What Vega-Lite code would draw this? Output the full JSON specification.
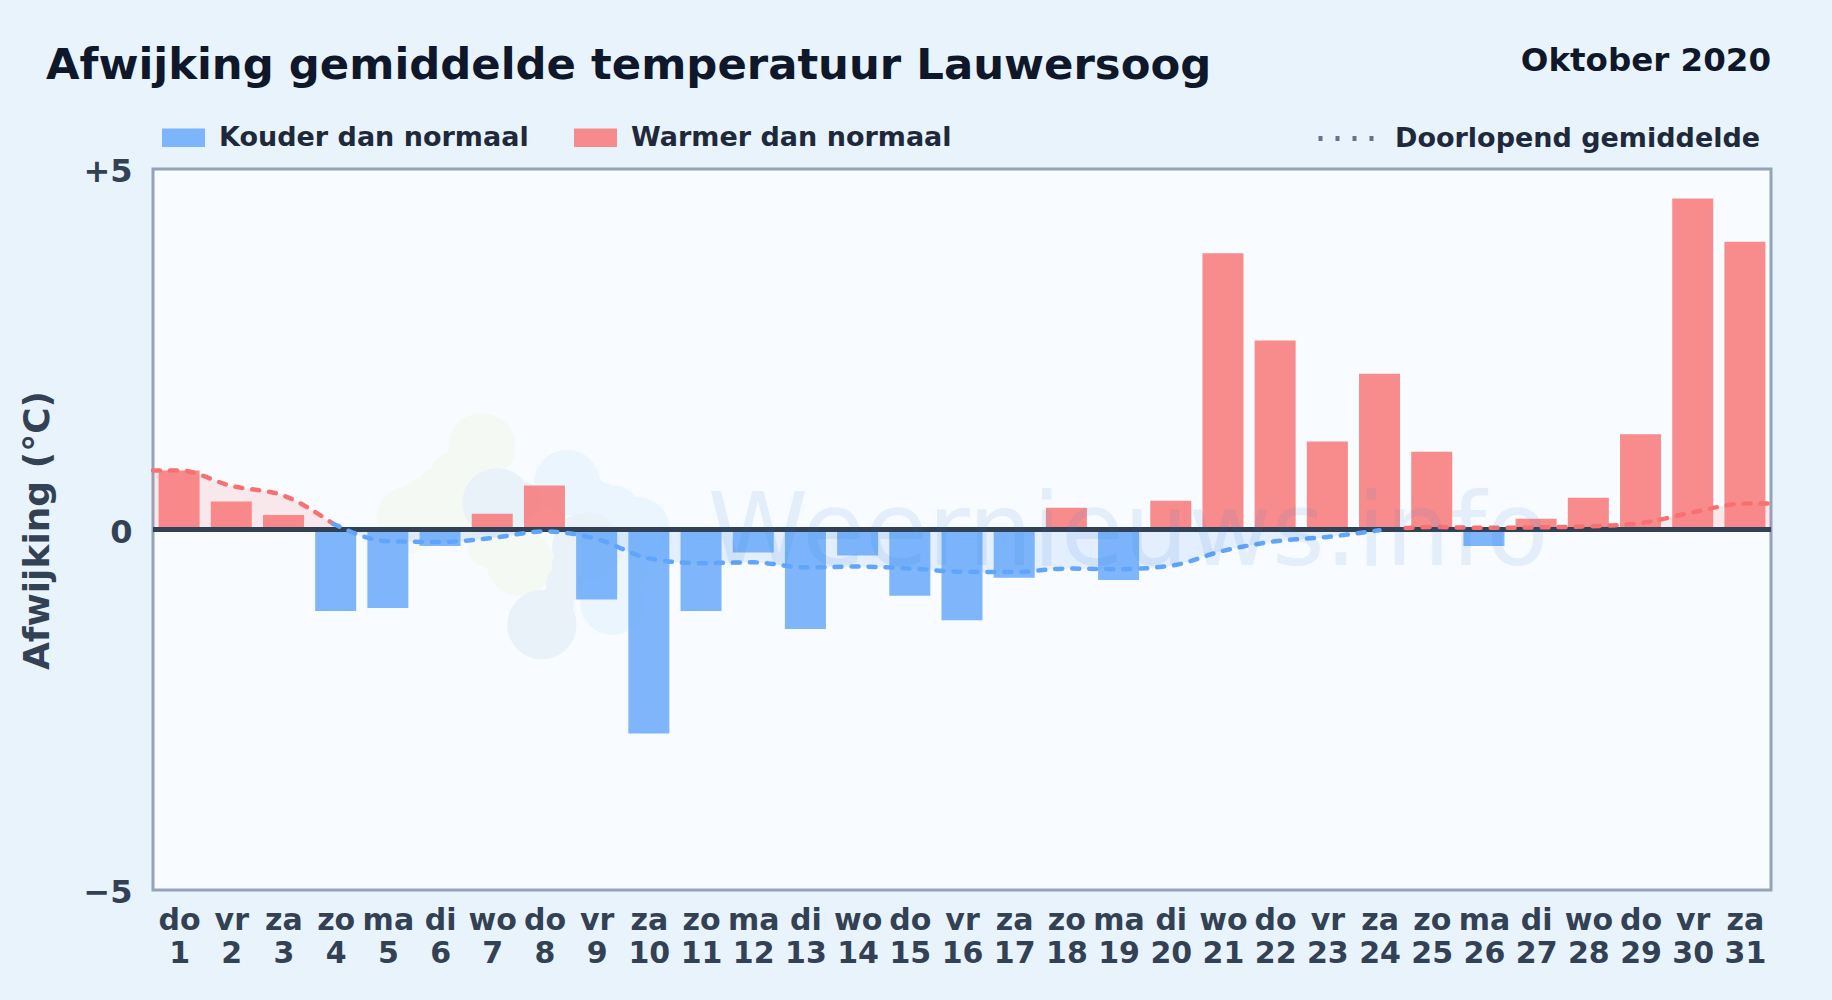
{
"$schema":"https://vega.github.io/schema/vega-lite/v6.json",
"width":1618,"height":721,
"autosize":{"type":"none"},
"padding":{"left":153,"top":169,"right":61,"bottom":110},
"background":"#e9f3fc",
"view":{"fill":"#f8fbff","stroke":"#94a3b8","strokeWidth":3},
"config":{"font":"DejaVu Sans"},
"title":{"text":"Afwijking gemiddelde temperatuur Lauwersoog","anchor":"start","frame":"group","dx":-107,"offset":-78,"baseline":"alphabetic","fontSize":43.35,"fontWeight":"bold","color":"#0f172a","font":"DejaVu Sans"},
"datasets":{
"days":[
{"day":1,"dev":0.82,"kind":"Warmer dan normaal"},{"day":2,"dev":0.39,"kind":"Warmer dan normaal"},{"day":3,"dev":0.2,"kind":"Warmer dan normaal"},{"day":4,"dev":-1.13,"kind":"Kouder dan normaal"},{"day":5,"dev":-1.09,"kind":"Kouder dan normaal"},{"day":6,"dev":-0.23,"kind":"Kouder dan normaal"},{"day":7,"dev":0.22,"kind":"Warmer dan normaal"},{"day":8,"dev":0.61,"kind":"Warmer dan normaal"},{"day":9,"dev":-0.97,"kind":"Kouder dan normaal"},{"day":10,"dev":-2.83,"kind":"Kouder dan normaal"},{"day":11,"dev":-1.13,"kind":"Kouder dan normaal"},{"day":12,"dev":-0.32,"kind":"Kouder dan normaal"},{"day":13,"dev":-1.38,"kind":"Kouder dan normaal"},{"day":14,"dev":-0.36,"kind":"Kouder dan normaal"},{"day":15,"dev":-0.92,"kind":"Kouder dan normaal"},{"day":16,"dev":-1.26,"kind":"Kouder dan normaal"},{"day":17,"dev":-0.67,"kind":"Kouder dan normaal"},{"day":18,"dev":0.3,"kind":"Warmer dan normaal"},{"day":19,"dev":-0.7,"kind":"Kouder dan normaal"},{"day":20,"dev":0.4,"kind":"Warmer dan normaal"},{"day":21,"dev":3.83,"kind":"Warmer dan normaal"},{"day":22,"dev":2.62,"kind":"Warmer dan normaal"},{"day":23,"dev":1.22,"kind":"Warmer dan normaal"},{"day":24,"dev":2.16,"kind":"Warmer dan normaal"},{"day":25,"dev":1.08,"kind":"Warmer dan normaal"},{"day":26,"dev":-0.23,"kind":"Kouder dan normaal"},{"day":27,"dev":0.15,"kind":"Warmer dan normaal"},{"day":28,"dev":0.44,"kind":"Warmer dan normaal"},{"day":29,"dev":1.32,"kind":"Warmer dan normaal"},{"day":30,"dev":4.59,"kind":"Warmer dan normaal"},{"day":31,"dev":3.99,"kind":"Warmer dan normaal"}],
"mean":[
{"day":0.5,"mean":0.82,"part":"warm1"},{"day":1,"mean":0.82,"part":"warm1"},{"day":2,"mean":0.605,"part":"warm1"},{"day":3,"mean":0.47,"part":"warm1"},{"day":3.95,"mean":0.08,"part":"warm1"},
{"day":3.95,"mean":0.08,"part":"cold"},{"day":5,"mean":-0.162,"part":"cold"},{"day":6,"mean":-0.173,"part":"cold"},{"day":7,"mean":-0.117,"part":"cold"},{"day":8,"mean":-0.026,"part":"cold"},{"day":9,"mean":-0.131,"part":"cold"},{"day":10,"mean":-0.401,"part":"cold"},{"day":11,"mean":-0.467,"part":"cold"},{"day":12,"mean":-0.455,"part":"cold"},{"day":13,"mean":-0.526,"part":"cold"},{"day":14,"mean":-0.514,"part":"cold"},{"day":15,"mean":-0.541,"part":"cold"},{"day":16,"mean":-0.586,"part":"cold"},{"day":17,"mean":-0.591,"part":"cold"},{"day":18,"mean":-0.542,"part":"cold"},{"day":19,"mean":-0.55,"part":"cold"},{"day":20,"mean":-0.503,"part":"cold"},{"day":21,"mean":-0.296,"part":"cold"},{"day":22,"mean":-0.164,"part":"cold"},{"day":23,"mean":-0.103,"part":"cold"},{"day":24,"mean":-0.009,"part":"cold"},
{"day":24.5,"mean":0.02,"part":"warm2"},{"day":25,"mean":0.034,"part":"warm2"},{"day":26,"mean":0.024,"part":"warm2"},{"day":27,"mean":0.029,"part":"warm2"},{"day":28,"mean":0.044,"part":"warm2"},{"day":29,"mean":0.088,"part":"warm2"},{"day":30,"mean":0.238,"part":"warm2"},{"day":31,"mean":0.359,"part":"warm2"},{"day":31.5,"mean":0.359,"part":"warm2"}],
"logo":[
{"lx":6.8,"ly":1.15,"c":"green","s":"big"},{"lx":5.42,"ly":0.14,"c":"green","s":"big"},{"lx":7.53,"ly":-0.46,"c":"green","s":"big"},
{"lx":6.0,"ly":0.55,"c":"green","s":"small"},{"lx":6.48,"ly":0.14,"c":"green","s":"small"},{"lx":6.96,"ly":-0.21,"c":"green","s":"small"},{"lx":6.57,"ly":0.97,"c":"green","s":"small"},{"lx":6.25,"ly":0.75,"c":"green","s":"small"},{"lx":5.7,"ly":0.4,"c":"green","s":"small"},
{"lx":8.43,"ly":0.65,"c":"blue","s":"big"},{"lx":9.77,"ly":0,"c":"blue","s":"big"},{"lx":9.31,"ly":-1.01,"c":"blue","s":"big"},
{"lx":9.06,"ly":0.35,"c":"blue","s":"small"},{"lx":9.54,"ly":-0.55,"c":"blue","s":"small"},{"lx":8.8,"ly":0.45,"c":"blue","s":"small"},{"lx":9.35,"ly":0.3,"c":"blue","s":"small"},
{"lx":7.09,"ly":0.37,"c":"gray","s":"big"},{"lx":7.95,"ly":-1.32,"c":"gray","s":"big"},{"lx":8.81,"ly":-0.24,"c":"gray","s":"big"},
{"lx":8.39,"ly":-0.76,"c":"gray","s":"small"},{"lx":8.5,"ly":-0.5,"c":"gray","s":"small"},{"lx":8.2,"ly":-1.05,"c":"gray","s":"small"},{"lx":7.6,"ly":0.4,"c":"gray","s":"small"}]
},
"data":{"name":"days"},
"layer":[
{"data":{"name":"logo"},"transform":[{"filter":"datum.c=='green'&&datum.s=='big'"}],"mark":{"type":"point","filled":true,"shape":"circle","size":4500,"color":"#f5f9f3","opacity":1},"encoding":{
"x":{"field":"lx","type":"quantitative","scale":{"domain":[0.5,31.5],"nice":false,"zero":false,"padding":0},"axis":{"values":[1,2,3,4,5,6,7,8,9,10,11,12,13,14,15,16,17,18,19,20,21,22,23,24,25,26,27,28,29,30,31],"title":null,"grid":false,"ticks":false,"domain":false,"labelFontSize":30,"labelFontWeight":"bold","labelColor":"#334155","labelPadding":15,"labelOverlap":false,"labelBound":false,"labelFlush":false,"labelLineHeight":33,"labelBaseline":"top","labelExpr":"[['do','vr','za','zo','ma','di','wo'][(datum.value-1)%7], ''+datum.value]"}},
"y":{"field":"ly","type":"quantitative","scale":{"domain":[-5,5],"nice":false,"padding":0},"axis":{"values":[-5,0,5],"grid":false,"ticks":false,"domain":false,"title":"Afwijking (°C)","titleFontSize":36,"titleFontWeight":"bold","titleColor":"#334155","titleX":-97,"titleY":361,"titleAlign":"center","labelFontSize":32,"labelFontWeight":"bold","labelColor":"#334155","labelPadding":21,"labelOffset":2.5,"labelOverlap":false,"labelBound":false,"labelFlush":false,"labelExpr":"datum.value>0?'+5':datum.value<0?'−5':'0'"}}}},
{"data":{"name":"logo"},"transform":[{"filter":"datum.c=='green'&&datum.s=='small'"}],"mark":{"type":"point","filled":true,"shape":"circle","size":2200,"color":"#f5f9f3","opacity":1},"encoding":{"x":{"field":"lx","type":"quantitative"},"y":{"field":"ly","type":"quantitative"}}},
{"data":{"name":"logo"},"transform":[{"filter":"datum.c=='blue'&&datum.s=='big'"}],"mark":{"type":"point","filled":true,"shape":"circle","size":4300,"color":"#ebf5fe","opacity":1},"encoding":{"x":{"field":"lx","type":"quantitative"},"y":{"field":"ly","type":"quantitative"}}},
{"data":{"name":"logo"},"transform":[{"filter":"datum.c=='blue'&&datum.s=='small'"}],"mark":{"type":"point","filled":true,"shape":"circle","size":2000,"color":"#ebf5fe","opacity":1},"encoding":{"x":{"field":"lx","type":"quantitative"},"y":{"field":"ly","type":"quantitative"}}},
{"data":{"name":"logo"},"transform":[{"filter":"datum.c=='gray'&&datum.s=='big'"}],"mark":{"type":"point","filled":true,"shape":"circle","size":4800,"color":"#e9f1f9","opacity":1},"encoding":{"x":{"field":"lx","type":"quantitative"},"y":{"field":"ly","type":"quantitative"}}},
{"data":{"name":"logo"},"transform":[{"filter":"datum.c=='gray'&&datum.s=='small'"}],"mark":{"type":"point","filled":true,"shape":"circle","size":1400,"color":"#e9f1f9","opacity":1},"encoding":{"x":{"field":"lx","type":"quantitative"},"y":{"field":"ly","type":"quantitative"}}},
{"data":{"name":"mean"},"transform":[{"filter":"datum.part!='cold'"}],"mark":{"type":"area","interpolate":"monotone","color":"#f87171","opacity":0.14},"encoding":{"x":{"field":"day","type":"quantitative"},"y":{"field":"mean","type":"quantitative"},"y2":{"datum":0},"detail":{"field":"part"}}},
{"data":{"name":"mean"},"transform":[{"filter":"datum.part=='cold'"}],"mark":{"type":"area","interpolate":"monotone","color":"#60a5fa","opacity":0.14},"encoding":{"x":{"field":"day","type":"quantitative"},"y":{"field":"mean","type":"quantitative"},"y2":{"datum":0}}},
{"mark":{"type":"bar","size":41,"opacity":0.8},"encoding":{
"x":{"field":"day","type":"quantitative"},
"y":{"field":"dev","type":"quantitative"},
"y2":{"datum":0},
"color":{"field":"kind","type":"nominal","scale":{"domain":["Kouder dan normaal","Warmer dan normaal"],"range":["#60a5fa","#f87171"]},"legend":{"title":null,"orient":"none","legendX":9,"legendY":-53,"direction":"horizontal","labelFontSize":27,"labelFontWeight":"bold","labelColor":"#1e293b","labelLimit":800,"symbolType":"M-1,-0.43H1V0.43H-1Z","symbolSize":1849,"symbolStrokeWidth":0,"columnPadding":45,"labelOffset":14}}
}},
{"mark":{"type":"rule","color":"#334155","strokeWidth":3.5},"encoding":{"y":{"datum":0}}},
{"data":{"name":"mean"},"transform":[{"filter":"datum.part!='cold'"}],"mark":{"type":"line","interpolate":"monotone","color":"#f87171","strokeWidth":4.5,"strokeCap":"round","strokeDash":[7,10]},"encoding":{"x":{"field":"day","type":"quantitative"},"y":{"field":"mean","type":"quantitative"},"detail":{"field":"part"}}},
{"data":{"name":"mean"},"transform":[{"filter":"datum.part=='cold'"}],"mark":{"type":"line","interpolate":"monotone","color":"#60a5fa","strokeWidth":4.5,"strokeCap":"round","strokeDash":[7,10]},"encoding":{"x":{"field":"day","type":"quantitative"},"y":{"field":"mean","type":"quantitative"}}},
{"data":{"name":"mean"},"transform":[{"filter":"datum.day==0.5"}],"mark":{"type":"line","color":"#64748b","strokeWidth":5},"encoding":{"x":{"field":"day","type":"quantitative"},"y":{"field":"mean","type":"quantitative"},"strokeDash":{"datum":"Doorlopend gemiddelde","scale":{"range":[[4,13]]},"legend":{"title":null,"orient":"none","legendX":1163,"legendY":-61,"labelFontSize":27,"labelFontWeight":"bold","labelColor":"#1e293b","labelLimit":800,"symbolType":"stroke","symbolSize":3136,"symbolStrokeWidth":5,"symbolDash":[4,13],"labelOffset":18}}}},
{"data":{"values":[{"px":19.18,"py":-0.49,"t":"Weernieuws.info"}]},"mark":{"type":"text","font":"DejaVu Sans","fontSize":102,"align":"center","baseline":"alphabetic","color":"#1d78d0","opacity":0.09},"encoding":{"x":{"field":"px","type":"quantitative"},"y":{"field":"py","type":"quantitative"},"text":{"field":"t"}}},
{"data":{"values":[{"px":31.5,"py":6.366,"t":"Oktober 2020"}]},"mark":{"type":"text","font":"DejaVu Sans","fontSize":32.5,"fontWeight":"bold","align":"right","baseline":"alphabetic","color":"#0f172a"},"encoding":{"x":{"field":"px","type":"quantitative"},"y":{"field":"py","type":"quantitative"},"text":{"field":"t"}}}
]
}
